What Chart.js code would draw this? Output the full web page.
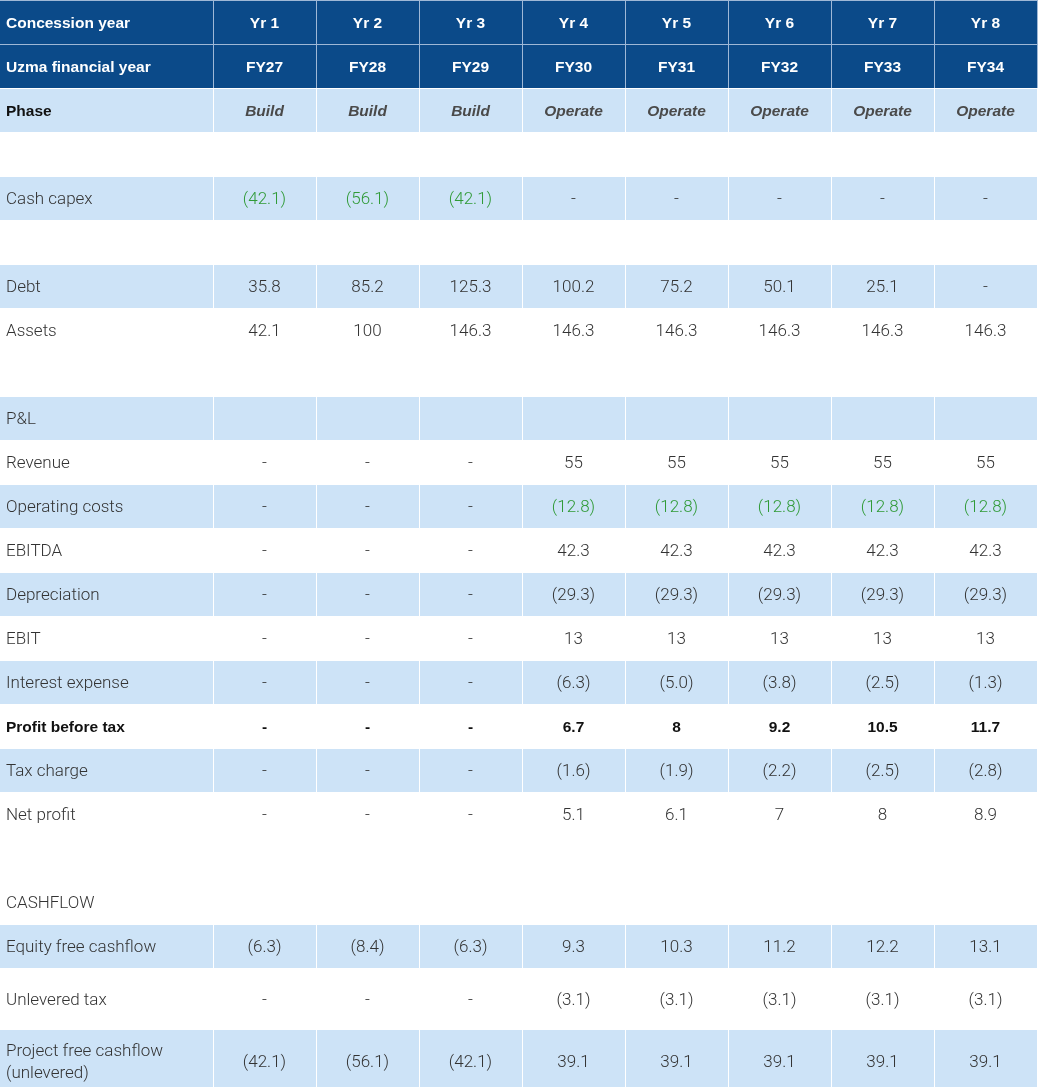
<!DOCTYPE html>
<html>
<head>
<meta charset="utf-8">
<script src="https://cdn.jsdelivr.net/npm/chart.js@4.4.1/dist/chart.umd.min.js"></script>
<style>
  html, body { margin: 0; padding: 0; background: #fff; }
  #wrap { width: 1038px; height: 1087px; }
</style>
</head>
<body>
<div id="wrap"><canvas id="myChart"></canvas></div>
<script>
const concessionYears = ["Yr 1", "Yr 2", "Yr 3", "Yr 4", "Yr 5", "Yr 6", "Yr 7", "Yr 8"];
const financialYears = ["FY27", "FY28", "FY29", "FY30", "FY31", "FY32", "FY33", "FY34"];
const phases = ["Build", "Build", "Build", "Operate", "Operate", "Operate", "Operate", "Operate"];

const cashCapex = [-42.1, -56.1, -42.1, null, null, null, null, null];
const debt = [35.8, 85.2, 125.3, 100.2, 75.2, 50.1, 25.1, null];
const assets = [42.1, 100, 146.3, 146.3, 146.3, 146.3, 146.3, 146.3];
const revenue = [null, null, null, 55, 55, 55, 55, 55];
const operatingCosts = [null, null, null, -12.8, -12.8, -12.8, -12.8, -12.8];
const ebitda = [null, null, null, 42.3, 42.3, 42.3, 42.3, 42.3];
const depreciation = [null, null, null, -29.3, -29.3, -29.3, -29.3, -29.3];
const ebit = [null, null, null, 13, 13, 13, 13, 13];
const interestExpense = [null, null, null, -6.3, -5.0, -3.8, -2.5, -1.3];
const profitBeforeTax = [null, null, null, 6.7, 8, 9.2, 10.5, 11.7];
const taxCharge = [null, null, null, -1.6, -1.9, -2.2, -2.5, -2.8];
const netProfit = [null, null, null, 5.1, 6.1, 7, 8, 8.9];
const equityFreeCashflow = [-6.3, -8.4, -6.3, 9.3, 10.3, 11.2, 12.2, 13.1];
const unleveredTax = [null, null, null, -3.1, -3.1, -3.1, -3.1, -3.1];
const projectFreeCashflow = [-42.1, -56.1, -42.1, 39.1, 39.1, 39.1, 39.1, 39.1];

// ---- layout (sizes in scale units) ----
const colWidths = [213, 103, 103, 103, 103, 103, 103, 103, 103];
const rowHeight = 44;

const DARK = "#0b4a89";
const BAND = "#cde3f7";
const HEAD_LINE = "#9fb8d6";
const GREEN = "#2f9a36";
const TEXT = "#333333";
const FONT_LIGHT = "300 17px Roboto, 'Liberation Sans', sans-serif";
const FONT_BOLD = "bold 15.5px 'Liberation Sans', Arial, sans-serif";
const FONT_PHASE = "italic bold 15.5px 'Liberation Sans', Arial, sans-serif";
const TEXT_SHIFT = 2;

function fmt(v) {
  if (v === null) return "-";
  if (v < 0) return "(" + Math.abs(v).toFixed(1) + ")";
  return String(v);
}

function row(label, values, kind, height) {
  return {
    label: label,
    cells: values ? values.map(v => (typeof v === "string" ? v : fmt(v))) : null,
    kind: kind,
    height: height || rowHeight
  };
}

const rows = [
  row("Concession year", concessionYears, "head"),
  row("Uzma financial year", financialYears, "head"),
  row("Phase", phases, "phase"),
  row("", null, "blank"),
  row("Cash capex", cashCapex, "band-green"),
  row("", null, "blank"),
  row("Debt", debt, "band"),
  row("Assets", assets, "plain"),
  row("", null, "blank"),
  row("P&L", null, "band"),
  row("Revenue", revenue, "plain"),
  row("Operating costs", operatingCosts, "band-green"),
  row("EBITDA", ebitda, "plain"),
  row("Depreciation", depreciation, "band"),
  row("EBIT", ebit, "plain"),
  row("Interest expense", interestExpense, "band"),
  row("Profit before tax", profitBeforeTax, "bold"),
  row("Tax charge", taxCharge, "band"),
  row("Net profit", netProfit, "plain"),
  row("", null, "blank"),
  row("CASHFLOW", null, "plain"),
  row("Equity free cashflow", equityFreeCashflow, "band"),
  row("Unlevered tax", unleveredTax, "plain", 61),
  row("Project free cashflow\n(unlevered)", projectFreeCashflow, "band", 64)
];

const totalWidth = colWidths.reduce((a, b) => a + b, 0) + 1;
const totalHeight = 1087;

const tablePlugin = {
  id: "tablePlugin",
  afterDraw(chart) {
    const ctx = chart.ctx;
    const xs = chart.scales.x;
    const ys = chart.scales.y;
    const colEdges = [0];
    colWidths.forEach(w => colEdges.push(colEdges[colEdges.length - 1] + w));

    ctx.save();
    let top = 0;
    rows.forEach(r => {
      const y0 = ys.getPixelForValue(top);
      const y1 = ys.getPixelForValue(top + r.height);
      const yc = (y0 + y1) / 2 + TEXT_SHIFT;
      const isHead = r.kind === "head";
      const isBand = r.kind === "phase" || r.kind.indexOf("band") === 0;

      for (let c = 0; c < colWidths.length; c++) {
        const x0 = xs.getPixelForValue(colEdges[c]);
        const x1 = xs.getPixelForValue(colEdges[c + 1]);
        if (isHead) {
          ctx.fillStyle = HEAD_LINE;
          ctx.fillRect(x0, y0, x1 - x0 + 1, y1 - y0);
          ctx.fillStyle = DARK;
          ctx.fillRect(x0 + (c > 0 ? 1 : 0), y0 + 1, x1 - x0 - (c > 0 ? 1 : 0), y1 - y0 - 1);
        } else if (isBand) {
          ctx.fillStyle = BAND;
          ctx.fillRect(x0 + (c > 0 ? 1 : 0), y0 + 1, x1 - x0 - (c > 0 ? 1 : 0), y1 - y0 - 1);
        }
      }

      // label
      ctx.textBaseline = "middle";
      ctx.textAlign = "left";
      if (isHead) { ctx.font = FONT_BOLD; ctx.fillStyle = "#ffffff"; }
      else if (r.kind === "phase" || r.kind === "bold") { ctx.font = FONT_BOLD; ctx.fillStyle = "#111111"; }
      else { ctx.font = FONT_LIGHT; ctx.fillStyle = TEXT; }
      const lines = r.label.split("\n");
      const lh = 22;
      lines.forEach((ln, i) => {
        ctx.fillText(ln, xs.getPixelForValue(6), yc + (i - (lines.length - 1) / 2) * lh);
      });

      // values
      if (r.cells) {
        ctx.textAlign = "center";
        r.cells.forEach((txt, i) => {
          const cx = (xs.getPixelForValue(colEdges[i + 1]) + xs.getPixelForValue(colEdges[i + 2])) / 2;
          if (isHead) { ctx.font = FONT_BOLD; ctx.fillStyle = "#ffffff"; }
          else if (r.kind === "phase") { ctx.font = FONT_PHASE; ctx.fillStyle = "#4a4a4a"; }
          else if (r.kind === "bold") { ctx.font = FONT_BOLD; ctx.fillStyle = "#111111"; }
          else if (r.kind === "band-green" && txt !== "-") { ctx.font = FONT_LIGHT; ctx.fillStyle = GREEN; }
          else { ctx.font = FONT_LIGHT; ctx.fillStyle = TEXT; }
          ctx.fillText(txt, cx, yc);
        });
      }
      top += r.height;
    });
    ctx.restore();
  }
};

const config = {
  type: "scatter",
  data: { datasets: [] },
  options: {
    responsive: true,
    maintainAspectRatio: false,
    animation: false,
    layout: { padding: 0 },
    plugins: { legend: { display: false }, tooltip: { enabled: false } },
    scales: {
      x: { type: "linear", min: 0, max: totalWidth, display: false },
      y: { type: "linear", min: 0, max: totalHeight, reverse: true, display: false }
    }
  },
  plugins: [tablePlugin]
};

const context = document.getElementById("myChart").getContext("2d");
const chart = new Chart(context, config);
</script>
</body>
</html>
